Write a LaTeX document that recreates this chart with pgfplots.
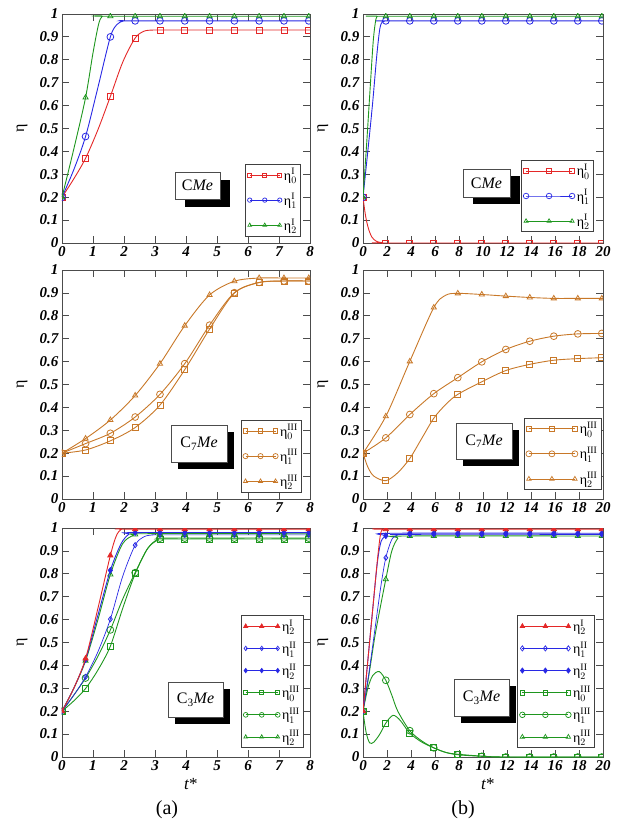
\documentclass[border=0pt]{standalone}
\usepackage{pgfplots}
\pgfplotsset{compat=1.18}
\usepackage{fontspec}
\setmainfont{Liberation Serif}

\definecolor{cred}{RGB}{228,40,40}
\definecolor{cblue}{RGB}{40,40,228}
\definecolor{cgreen}{RGB}{30,150,30}
\definecolor{corange}{RGB}{200,120,40}

\newcommand{\et}[2]{$\mbox{η}^{\mathrm{#1}}_{#2}$}
\newcommand{\tl}[1]{\mbox{\fontsize{15}{15}\selectfont\bfseries\itshape #1}}

\pgfplotsset{
  myaxis/.style={
    scale only axis, height=229pt, ymin=0, ymax=1,
    ytick={0,0.1,0.2,0.3,0.4,0.5,0.6,0.7,0.8,0.9,1},
    yticklabels={\tl{0},\tl{0.1},\tl{0.2},\tl{0.3},\tl{0.4},\tl{0.5},\tl{0.6},\tl{0.7},\tl{0.8},\tl{0.9},\tl{1}},
    major tick length=7pt,
    axis line style={line width=0.9pt, black!70},
    every tick/.style={black!70, line width=0.8pt},
    clip marker paths=true,
    ylabel={η},
    label style={font=\fontsize{16}{16}\selectfont},
    legend cell align=left,
    legend style={draw=black!75, line width=0.6pt, fill=white, font=\fontsize{14}{15}\selectfont, inner sep=2pt, row sep=8pt},
  },
  leftcol/.style={width=248pt, xmin=0, xmax=8,
    xtick={0,1,2,3,4,5,6,7,8},
    xticklabels={\tl{0},\tl{1},\tl{2},\tl{3},\tl{4},\tl{5},\tl{6},\tl{7},\tl{8}},
    ylabel style={at={(axis description cs:-0.161,0.5)}, anchor=center}},
  rightcol/.style={width=240pt, xmin=0, xmax=20,
    xtick={0,2,4,6,8,10,12,14,16,18,20},
    xticklabels={\tl{0},\tl{2},\tl{4},\tl{6},\tl{8},\tl{10},\tl{12},\tl{14},\tl{16},\tl{18},\tl{20}},
    ylabel style={at={(axis description cs:-0.167,0.5)}, anchor=center}},
  ln/.style={forget plot, smooth, no markers, line width=0.9pt, color=#1},
  mk/.style={forget plot, only marks, color=#1, line width=0.8pt, mark size=3pt},
  legshort/.style={legend image code/.code={\draw[mark repeat=1,mark phase=1] plot coordinates {(0pt,0pt) (15pt,0pt) (30pt,0pt)};}},
  leglong/.style={legend image code/.code={\draw[mark repeat=1,mark phase=1] plot coordinates {(0pt,0pt) (23pt,0pt) (46pt,0pt)};}},
}

\newcommand{\lbox}[7]{%
  \fill[black] (#1pt+#6pt,-#2pt-#7pt) rectangle (#3pt+#6pt,-#4pt-#7pt);
  \draw[black!70, fill=white, line width=0.6pt] (#1pt,-#2pt) rectangle (#3pt,-#4pt);
  \node[font=\fontsize{16}{16}\selectfont, inner sep=0pt] at ({(#1+#3)/2*1pt},{-(#2+#4)/2*1pt}) {#5};}

\begin{document}
\begin{tikzpicture}
\useasboundingbox (0pt,0pt) rectangle (632pt,-826pt);

% ---------------- A1 : CMe (a)
\begin{axis}[myaxis, leftcol, at={(62pt,-243pt)}, anchor=south west, legshort,
  legend style={at={(axis description cs:0.964,0.03)}, anchor=south east}]
\addplot[ln=cred] coordinates {(0,0.2)(0.38,0.28)(0.76,0.37)(1.16,0.495)(1.56,0.64)(1.96,0.79)(2.36,0.895)(2.65,0.925)(2.95,0.93)(3.3,0.93)(8,0.93)};
\addplot[mk=cred, mark=square] coordinates {(0,0.2)(0.76,0.37)(1.56,0.64)(2.36,0.895)(3.16,0.93)(3.96,0.93)(4.76,0.93)(5.56,0.93)(6.36,0.93)(7.16,0.93)(7.96,0.93)};
\addplot[ln=cblue] coordinates {(0,0.2)(0.38,0.32)(0.76,0.465)(1.16,0.68)(1.56,0.9)(1.78,0.955)(2.0,0.97)(2.3,0.97)(8,0.97)};
\addplot[mk=cblue, mark=o, mark size=3.4pt] coordinates {(0,0.2)(0.76,0.465)(1.56,0.9)(2.36,0.97)(3.16,0.97)(3.96,0.97)(4.76,0.97)(5.56,0.97)(6.36,0.97)(7.16,0.97)(7.96,0.97)};
\addplot[ln=cgreen] coordinates {(0,0.2)(0.38,0.41)(0.76,0.635)(1.0,0.83)(1.18,0.955)(1.3,0.99)(1.5,0.99)(8,0.99)};
\addplot[mk=cgreen, mark=triangle] coordinates {(0,0.2)(0.76,0.635)(1.56,0.99)(2.36,0.99)(3.16,0.99)(3.96,0.99)(4.76,0.99)(5.56,0.99)(6.36,0.99)(7.16,0.99)(7.96,0.99)};
\addlegendimage{cred, mark=square, mark size=2pt, line width=0.7pt}\addlegendentry{\et{I}{0}}
\addlegendimage{cblue, mark=o, mark size=2.2pt, line width=0.7pt}\addlegendentry{\et{I}{1}}
\addlegendimage{cgreen, mark=triangle, mark size=2.2pt, line width=0.7pt}\addlegendentry{\et{I}{2}}
\end{axis}

% ---------------- A2 : CMe (b)
\begin{axis}[myaxis, rightcol, at={(363pt,-243pt)}, anchor=south west, leglong,
  legend style={at={(axis description cs:0.9625,0.048)}, anchor=south east}]
\addplot[ln=cred] coordinates {(0,0.2)(0.15,0.14)(0.3,0.095)(0.5,0.055)(0.75,0.025)(1.1,0.008)(1.5,0.002)(2.0,0)(20,0)};
\addplot[mk=cred, mark=square] coordinates {(0,0.2)(1.9,0)(3.9,0)(5.9,0)(7.9,0)(9.9,0)(11.9,0)(13.9,0)(15.9,0)(17.9,0)(19.9,0)};
\addplot[ln=cblue] coordinates {(0,0.2)(0.4,0.4)(0.8,0.61)(1.15,0.82)(1.4,0.935)(1.6,0.965)(1.85,0.97)(2.2,0.97)(20,0.97)};
\addplot[mk=cblue, mark=o, mark size=3.4pt] coordinates {(0,0.2)(1.9,0.97)(3.9,0.97)(5.9,0.97)(7.9,0.97)(9.9,0.97)(11.9,0.97)(13.9,0.97)(15.9,0.97)(17.9,0.97)(19.9,0.97)};
\addplot[ln=cgreen] coordinates {(0,0.2)(0.3,0.43)(0.6,0.68)(0.85,0.88)(1.05,0.97)(1.2,0.99)(1.45,0.99)(20,0.99)};
\addplot[mk=cgreen, mark=triangle] coordinates {(0,0.2)(1.9,0.99)(3.9,0.99)(5.9,0.99)(7.9,0.99)(9.9,0.99)(11.9,0.99)(13.9,0.99)(15.9,0.99)(17.9,0.99)(19.9,0.99)};
\addlegendimage{cred, mark=square, mark size=2.4pt, line width=0.7pt}\addlegendentry{\et{I}{0}}
\addlegendimage{cblue, mark=o, mark size=2.8pt, line width=0.7pt}\addlegendentry{\et{I}{1}}
\addlegendimage{cgreen, mark=triangle, mark size=2.4pt, line width=0.7pt}\addlegendentry{\et{I}{2}}
\end{axis}

% ---------------- A3 : C7Me (a)
\begin{axis}[myaxis, leftcol, at={(62pt,-499pt)}, anchor=south west, legshort,
  legend style={at={(axis description cs:0.968,0.03)}, anchor=south east}]
\addplot[ln=corange] coordinates {(0,0.2)(0.76,0.214)(1.56,0.254)(2.36,0.312)(3.16,0.41)(3.96,0.565)(4.76,0.742)(5.56,0.899)(6.36,0.945)(7.16,0.952)(7.96,0.952)(8,0.952)};
\addplot[mk=corange, mark=square] coordinates {(0,0.2)(0.76,0.214)(1.56,0.254)(2.36,0.312)(3.16,0.41)(3.96,0.565)(4.76,0.742)(5.56,0.899)(6.36,0.945)(7.16,0.952)(7.96,0.952)};
\addplot[ln=corange] coordinates {(0,0.2)(0.76,0.242)(1.56,0.287)(2.36,0.358)(3.16,0.457)(3.96,0.591)(4.76,0.759)(5.56,0.901)(6.36,0.946)(7.16,0.952)(7.96,0.952)(8,0.952)};
\addplot[mk=corange, mark=o, mark size=3.4pt] coordinates {(0,0.2)(0.76,0.242)(1.56,0.287)(2.36,0.358)(3.16,0.457)(3.96,0.591)(4.76,0.759)(5.56,0.901)(6.36,0.946)(7.16,0.952)(7.96,0.952)};
\addplot[ln=corange] coordinates {(0,0.2)(0.76,0.264)(1.56,0.345)(2.36,0.452)(3.16,0.591)(3.96,0.757)(4.76,0.891)(5.56,0.951)(6.36,0.965)(7.16,0.965)(7.96,0.965)(8,0.965)};
\addplot[mk=corange, mark=triangle] coordinates {(0,0.2)(0.76,0.264)(1.56,0.345)(2.36,0.452)(3.16,0.591)(3.96,0.757)(4.76,0.891)(5.56,0.951)(6.36,0.965)(7.16,0.965)(7.96,0.965)};
\addlegendimage{corange, mark=square, mark size=2.2pt, line width=0.7pt}\addlegendentry{\et{III}{0}}
\addlegendimage{corange, mark=o, mark size=2.6pt, line width=0.7pt}\addlegendentry{\et{III}{1}}
\addlegendimage{corange, mark=triangle, mark size=2.4pt, line width=0.7pt}\addlegendentry{\et{III}{2}}
\end{axis}

% ---------------- A4 : C7Me (b)
\begin{axis}[myaxis, rightcol, at={(363pt,-499pt)}, anchor=south west, leglong,
  legend style={at={(axis description cs:0.995,0.04)}, anchor=south east}]
\addplot[ln=corange] coordinates {(0,0.2)(0.4,0.14)(0.9,0.1)(1.9,0.08)(2.9,0.115)(3.9,0.177)(4.9,0.265)(5.9,0.353)(6.9,0.413)(7.9,0.457)(9.9,0.512)(11.9,0.561)(13.9,0.588)(15.9,0.606)(17.9,0.613)(19.9,0.617)(20,0.617)};
\addplot[mk=corange, mark=square] coordinates {(0,0.2)(1.9,0.083)(3.9,0.177)(5.9,0.353)(7.9,0.457)(9.9,0.512)(11.9,0.561)(13.9,0.588)(15.9,0.606)(17.9,0.613)(19.9,0.617)};
\addplot[ln=corange] coordinates {(0,0.2)(1.9,0.267)(3.9,0.369)(5.9,0.46)(7.9,0.53)(9.9,0.599)(11.9,0.653)(13.9,0.689)(15.9,0.711)(17.9,0.721)(19.9,0.723)(20,0.723)};
\addplot[mk=corange, mark=o, mark size=3.4pt] coordinates {(0,0.2)(1.9,0.267)(3.9,0.369)(5.9,0.46)(7.9,0.53)(9.9,0.599)(11.9,0.653)(13.9,0.689)(15.9,0.711)(17.9,0.721)(19.9,0.723)};
\addplot[ln=corange] coordinates {(0,0.2)(1.9,0.361)(3.9,0.601)(5.9,0.836)(6.9,0.89)(7.9,0.898)(9.9,0.893)(11.9,0.886)(13.9,0.88)(15.9,0.876)(17.9,0.876)(19.9,0.876)(20,0.876)};
\addplot[mk=corange, mark=triangle] coordinates {(0,0.2)(1.9,0.361)(3.9,0.601)(5.9,0.836)(7.9,0.898)(9.9,0.893)(11.9,0.886)(13.9,0.88)(15.9,0.876)(17.9,0.876)(19.9,0.876)};
\addlegendimage{corange, mark=square, mark size=2.6pt, line width=0.7pt}\addlegendentry{\et{III}{0}}
\addlegendimage{corange, mark=o, mark size=3pt, line width=0.7pt}\addlegendentry{\et{III}{1}}
\addlegendimage{corange, mark=triangle, mark size=2.6pt, line width=0.7pt}\addlegendentry{\et{III}{2}}
\end{axis}

% ---------------- A5 : C3Me (a)
\begin{axis}[myaxis, leftcol, at={(62pt,-757pt)}, anchor=south west,
  legend image code/.code={\draw[mark repeat=1,mark phase=1] plot coordinates {(0pt,0pt) (16pt,0pt) (32pt,0pt)};},
  legend style={at={(axis description cs:0.976,0.04)}, anchor=south east, row sep=5pt},
  xlabel={\textit{t}*}, xlabel style={at={(axis description cs:0.52,-0.12)}, anchor=center, font=\fontsize{17}{17}\selectfont}]
\addplot[ln=cgreen] coordinates {(0,0.2)(0.38,0.245)(0.76,0.299)(1.16,0.38)(1.56,0.484)(1.96,0.65)(2.36,0.8)(2.76,0.91)(3.1,0.948)(3.4,0.952)(8,0.952)};
\addplot[mk=cgreen, mark=square] coordinates {(0,0.2)(0.76,0.299)(1.56,0.484)(2.36,0.8)(3.16,0.952)(3.96,0.952)(4.76,0.952)(5.56,0.952)(6.36,0.952)(7.16,0.952)(7.96,0.952)};
\addplot[ln=cgreen] coordinates {(0,0.2)(0.38,0.27)(0.76,0.345)(1.16,0.44)(1.56,0.555)(1.96,0.69)(2.36,0.805)(2.76,0.91)(3.1,0.952)(3.4,0.956)(8,0.956)};
\addplot[mk=cgreen, mark=o, mark size=3.4pt] coordinates {(0,0.2)(0.76,0.345)(1.56,0.555)(2.36,0.805)(3.16,0.956)(3.96,0.956)(4.76,0.956)(5.56,0.956)(6.36,0.956)(7.16,0.956)(7.96,0.956)};
\addplot[ln=cblue, line width=0.7pt] coordinates {(0,0.2)(0.38,0.27)(0.76,0.35)(1.16,0.46)(1.56,0.602)(1.96,0.79)(2.36,0.925)(2.65,0.962)(2.95,0.97)(3.3,0.97)(8,0.97)};
\addplot[mk=cblue, mark=diamond, mark size=2.6pt] coordinates {(0,0.2)(0.76,0.35)(1.56,0.602)(2.36,0.925)(3.16,0.97)(3.96,0.97)(4.76,0.97)(5.56,0.97)(6.36,0.97)(7.16,0.97)(7.96,0.97)};
\addplot[ln=cgreen] coordinates {(0,0.2)(0.38,0.3)(0.76,0.42)(1.16,0.6)(1.56,0.797)(1.95,0.93)(2.3,0.968)(2.6,0.975)(8,0.975)};
\addplot[mk=cgreen, mark=triangle] coordinates {(0,0.2)(0.76,0.42)(1.56,0.797)(2.36,0.972)(3.16,0.975)(3.96,0.975)(4.76,0.975)(5.56,0.975)(6.36,0.975)(7.16,0.975)(7.96,0.975)};
\addplot[ln=cblue] coordinates {(0,0.2)(0.38,0.3)(0.76,0.425)(1.16,0.62)(1.56,0.815)(1.9,0.93)(2.15,0.972)(2.4,0.98)(8,0.98)};
\addplot[mk=cblue, mark=diamond*, mark size=2.8pt, mark options={fill=cblue}] coordinates {(0,0.2)(0.76,0.425)(1.56,0.815)(2.36,0.98)(3.16,0.98)(3.96,0.98)(4.76,0.98)(5.56,0.98)(6.36,0.98)(7.16,0.98)(7.96,0.98)};
\addplot[ln=cred] coordinates {(0,0.2)(0.38,0.3)(0.76,0.43)(1.16,0.65)(1.56,0.88)(1.75,0.965)(1.92,0.995)(2.2,0.995)(8,0.995)};
\addplot[mk=cred, mark=triangle*, mark options={fill=cred}] coordinates {(0,0.2)(0.76,0.43)(1.56,0.88)(2.36,0.995)(3.16,0.995)(3.96,0.995)(4.76,0.995)(5.56,0.995)(6.36,0.995)(7.16,0.995)(7.96,0.995)};
\addlegendimage{cred, mark=triangle*, mark options={fill=cred}, mark size=2.4pt, line width=0.7pt}\addlegendentry{\et{I}{2}}
\addlegendimage{cblue, mark=diamond, mark size=2.2pt, line width=0.7pt}\addlegendentry{\et{II}{1}}
\addlegendimage{cblue, mark=diamond*, mark options={fill=cblue}, mark size=2.2pt, line width=0.7pt}\addlegendentry{\et{II}{2}}
\addlegendimage{cgreen, mark=square, mark size=2pt, line width=0.7pt}\addlegendentry{\et{III}{0}}
\addlegendimage{cgreen, mark=o, mark size=2.4pt, line width=0.7pt}\addlegendentry{\et{III}{1}}
\addlegendimage{cgreen, mark=triangle, mark size=2.2pt, line width=0.7pt}\addlegendentry{\et{III}{2}}
\end{axis}

% ---------------- A6 : C3Me (b)
\begin{axis}[myaxis, rightcol, at={(363pt,-757pt)}, anchor=south west, leglong,
  legend style={at={(axis description cs:0.967,0.04)}, anchor=south east, row sep=5pt},
  xlabel={\textit{t}*}, xlabel style={at={(axis description cs:0.52,-0.12)}, anchor=center, font=\fontsize{17}{17}\selectfont}]
\addplot[ln=cgreen] coordinates {(0,0.2)(0.25,0.11)(0.55,0.062)(0.9,0.065)(1.4,0.1)(1.9,0.148)(2.5,0.182)(3.1,0.16)(3.9,0.104)(4.9,0.065)(5.9,0.04)(6.9,0.02)(7.9,0.012)(9.9,0.004)(11.9,0)(20,0)};
\addplot[mk=cgreen, mark=square] coordinates {(0,0.2)(1.9,0.148)(3.9,0.104)(5.9,0.04)(7.9,0.012)(9.9,0.004)(11.9,0)(13.9,0)(15.9,0)(17.9,0)(19.9,0)};
\addplot[ln=cgreen] coordinates {(0,0.2)(0.4,0.3)(0.8,0.355)(1.35,0.373)(1.9,0.335)(2.4,0.27)(2.9,0.2)(3.9,0.115)(4.9,0.07)(5.9,0.04)(6.9,0.02)(7.9,0.01)(9.9,0.003)(11.9,0)(20,0)};
\addplot[mk=cgreen, mark=o, mark size=3.4pt] coordinates {(0,0.2)(1.9,0.335)(3.9,0.115)(5.9,0.04)(7.9,0.01)(9.9,0.003)(11.9,0)(13.9,0)(15.9,0)(17.9,0)(19.9,0)};
\addplot[ln=cgreen] coordinates {(0,0.2)(0.5,0.36)(1.0,0.53)(1.5,0.67)(1.9,0.776)(2.4,0.9)(2.9,0.955)(3.4,0.965)(20,0.965)};
\addplot[mk=cgreen, mark=triangle] coordinates {(0,0.2)(1.9,0.776)(3.9,0.965)(5.9,0.965)(7.9,0.965)(9.9,0.965)(11.9,0.965)(13.9,0.965)(15.9,0.965)(17.9,0.965)(19.9,0.965)};
\addplot[ln=cblue, line width=0.7pt] coordinates {(0,0.2)(0.5,0.37)(1.0,0.56)(1.5,0.75)(1.9,0.87)(2.4,0.95)(2.9,0.97)(3.4,0.972)(20,0.972)};
\addplot[mk=cblue, mark=diamond, mark size=2.6pt] coordinates {(0,0.2)(1.9,0.87)(3.9,0.972)(5.9,0.972)(7.9,0.972)(9.9,0.972)(11.9,0.972)(13.9,0.972)(15.9,0.972)(17.9,0.972)(19.9,0.972)};
\addplot[ln=cblue] coordinates {(0,0.2)(0.4,0.42)(0.8,0.64)(1.2,0.85)(1.5,0.94)(1.9,0.966)(2.4,0.977)(20,0.977)};
\addplot[mk=cblue, mark=diamond*, mark size=2.8pt, mark options={fill=cblue}] coordinates {(0,0.2)(1.9,0.966)(3.9,0.977)(5.9,0.977)(7.9,0.977)(9.9,0.977)(11.9,0.977)(13.9,0.977)(15.9,0.977)(17.9,0.977)(19.9,0.977)};
\addplot[ln=cred] coordinates {(0,0.2)(0.4,0.42)(0.8,0.64)(1.2,0.86)(1.45,0.97)(1.65,0.995)(2.0,0.995)(20,0.995)};
\addplot[mk=cred, mark=triangle*, mark options={fill=cred}] coordinates {(0,0.2)(1.9,0.995)(3.9,0.995)(5.9,0.995)(7.9,0.995)(9.9,0.995)(11.9,0.995)(13.9,0.995)(15.9,0.995)(17.9,0.995)(19.9,0.995)};
\addlegendimage{cred, mark=triangle*, mark options={fill=cred}, mark size=2.6pt, line width=0.7pt}\addlegendentry{\et{I}{2}}
\addlegendimage{cblue, mark=diamond, mark size=2.6pt, line width=0.7pt}\addlegendentry{\et{II}{1}}
\addlegendimage{cblue, mark=diamond*, mark options={fill=cblue}, mark size=2.6pt, line width=0.7pt}\addlegendentry{\et{II}{2}}
\addlegendimage{cgreen, mark=square, mark size=2.4pt, line width=0.7pt}\addlegendentry{\et{III}{0}}
\addlegendimage{cgreen, mark=o, mark size=2.8pt, line width=0.7pt}\addlegendentry{\et{III}{1}}
\addlegendimage{cgreen, mark=triangle, mark size=2.6pt, line width=0.7pt}\addlegendentry{\et{III}{2}}
\end{axis}

% label boxes
\lbox{175}{172}{220}{199}{C\textit{Me}}{10}{8}
\lbox{463}{169}{510}{197}{C\textit{Me}}{10}{7}
\lbox{171}{425}{227}{462}{C\textsubscript{7}\textit{Me}}{7}{7}
\lbox{456}{423}{512}{459}{C\textsubscript{7}\textit{Me}}{7}{7}
\lbox{168}{682}{223}{717}{C\textsubscript{3}\textit{Me}}{7}{7}
\lbox{454}{679}{509}{716}{C\textsubscript{3}\textit{Me}}{7}{7}

\node[font=\fontsize{20}{20}\selectfont] at (167pt,-810pt) {(a)};
\node[font=\fontsize{20}{20}\selectfont] at (463pt,-810pt) {(b)};
\end{tikzpicture}
\end{document}
